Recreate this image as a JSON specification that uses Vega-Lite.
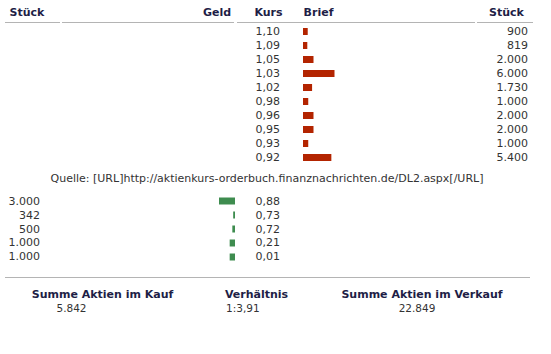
{
  "$schema": "https://vega.github.io/schema/vega-lite/v6.json",
  "width": 551,
  "height": 354,
  "padding": 0,
  "autosize": {"type": "fit", "contains": "padding"},
  "background": "white",
  "config": {
    "view": {"stroke": null},
    "locale": {"number": {"decimal": ",", "thousands": ".", "grouping": [3], "currency": ["", " €"]}},
    "text": {"font": "DejaVu Sans", "fontSize": 11, "color": "#333333", "baseline": "middle"}
  },
  "data": {"values": [{}]},
  "datasets": {
    "brief": [
      {"kurs": 1.10, "stueck": 900},
      {"kurs": 1.09, "stueck": 819},
      {"kurs": 1.05, "stueck": 2000},
      {"kurs": 1.03, "stueck": 6000},
      {"kurs": 1.02, "stueck": 1730},
      {"kurs": 0.98, "stueck": 1000},
      {"kurs": 0.96, "stueck": 2000},
      {"kurs": 0.95, "stueck": 2000},
      {"kurs": 0.93, "stueck": 1000},
      {"kurs": 0.92, "stueck": 5400}
    ],
    "geld": [
      {"kurs": 0.88, "stueck": 3000},
      {"kurs": 0.73, "stueck": 342},
      {"kurs": 0.72, "stueck": 500},
      {"kurs": 0.21, "stueck": 1000},
      {"kurs": 0.01, "stueck": 1000}
    ]
  },
  "resolve": {"scale": {"x": "independent", "y": "independent"}},
  "layer": [
    {
      "mark": {"type": "text", "text": "Stück", "fontWeight": "bold", "color": "#1e1e46", "align": "center"},
      "encoding": {
        "x": {"datum": "Stück Geld", "type": "nominal", "scale": {"type": "point", "domain": ["Stück Geld"], "range": [27, 27]}, "axis": null},
        "y": {"datum": "Kopf", "type": "nominal", "scale": {"type": "point", "domain": ["Kopf"], "range": [12.5, 12.5]}, "axis": null}
      }
    },
    {
      "mark": {"type": "text", "text": "Geld", "fontWeight": "bold", "color": "#1e1e46", "align": "center"},
      "encoding": {
        "x": {"datum": "Geld", "type": "nominal", "scale": {"type": "point", "domain": ["Geld"], "range": [217, 217]}, "axis": null},
        "y": {"datum": "Kopf", "type": "nominal", "scale": {"type": "point", "domain": ["Kopf"], "range": [12.5, 12.5]}, "axis": null}
      }
    },
    {
      "mark": {"type": "text", "text": "Kurs", "fontWeight": "bold", "color": "#1e1e46", "align": "center"},
      "encoding": {
        "x": {"datum": "Kurs", "type": "nominal", "scale": {"type": "point", "domain": ["Kurs"], "range": [268.5, 268.5]}, "axis": null},
        "y": {"datum": "Kopf", "type": "nominal", "scale": {"type": "point", "domain": ["Kopf"], "range": [12.5, 12.5]}, "axis": null}
      }
    },
    {
      "mark": {"type": "text", "text": "Brief", "fontWeight": "bold", "color": "#1e1e46", "align": "center"},
      "encoding": {
        "x": {"datum": "Brief", "type": "nominal", "scale": {"type": "point", "domain": ["Brief"], "range": [318.5, 318.5]}, "axis": null},
        "y": {"datum": "Kopf", "type": "nominal", "scale": {"type": "point", "domain": ["Kopf"], "range": [12.5, 12.5]}, "axis": null}
      }
    },
    {
      "mark": {"type": "text", "text": "Stück", "fontWeight": "bold", "color": "#1e1e46", "align": "center"},
      "encoding": {
        "x": {"datum": "Stück Brief", "type": "nominal", "scale": {"type": "point", "domain": ["Stück Brief"], "range": [506.5, 506.5]}, "axis": null},
        "y": {"datum": "Kopf", "type": "nominal", "scale": {"type": "point", "domain": ["Kopf"], "range": [12.5, 12.5]}, "axis": null}
      }
    },
    {
      "mark": {"type": "rule", "color": "#b4b4b4", "strokeWidth": 1},
      "encoding": {
        "x": {"datum": 0, "type": "quantitative", "scale": {"domain": [0, 1], "range": [5, 60]}, "axis": null},
        "x2": {"datum": 1},
        "y": {"datum": 0, "type": "quantitative", "scale": {"domain": [0, 1], "range": [22.5, 22.5]}, "axis": null}
      }
    },
    {
      "mark": {"type": "rule", "color": "#b4b4b4", "strokeWidth": 1},
      "encoding": {
        "x": {"datum": 0, "type": "quantitative", "scale": {"domain": [0, 1], "range": [62, 234]}, "axis": null},
        "x2": {"datum": 1},
        "y": {"datum": 0, "type": "quantitative", "scale": {"domain": [0, 1], "range": [22.5, 22.5]}, "axis": null}
      }
    },
    {
      "mark": {"type": "rule", "color": "#b4b4b4", "strokeWidth": 1},
      "encoding": {
        "x": {"datum": 0, "type": "quantitative", "scale": {"domain": [0, 1], "range": [237, 475]}, "axis": null},
        "x2": {"datum": 1},
        "y": {"datum": 0, "type": "quantitative", "scale": {"domain": [0, 1], "range": [22.5, 22.5]}, "axis": null}
      }
    },
    {
      "mark": {"type": "rule", "color": "#b4b4b4", "strokeWidth": 1},
      "encoding": {
        "x": {"datum": 0, "type": "quantitative", "scale": {"domain": [0, 1], "range": [477, 533]}, "axis": null},
        "x2": {"datum": 1},
        "y": {"datum": 0, "type": "quantitative", "scale": {"domain": [0, 1], "range": [22.5, 22.5]}, "axis": null}
      }
    },
    {
      "data": {"name": "brief"},
      "mark": {"type": "bar", "color": "#b32400", "size": 7},
      "encoding": {
        "y": {"field": "kurs", "type": "ordinal", "sort": "descending", "scale": {"type": "point", "range": [31.5, 157.5], "padding": 0}, "axis": null},
        "x": {"field": "stueck", "type": "quantitative", "scale": {"domain": [0, 6000], "range": [303, 334.5], "nice": false}, "axis": null}
      }
    },
    {
      "data": {"name": "brief"},
      "mark": {"type": "text", "align": "right"},
      "encoding": {
        "y": {"field": "kurs", "type": "ordinal", "sort": "descending", "scale": {"type": "point", "range": [31.5, 157.5], "padding": 0}, "axis": null},
        "x": {"datum": "Kurs", "type": "nominal", "scale": {"type": "point", "domain": ["Kurs"], "range": [280, 280]}, "axis": null},
        "text": {"field": "kurs", "type": "quantitative", "format": ".2f"}
      }
    },
    {
      "data": {"name": "brief"},
      "mark": {"type": "text", "align": "right"},
      "encoding": {
        "y": {"field": "kurs", "type": "ordinal", "sort": "descending", "scale": {"type": "point", "range": [31.5, 157.5], "padding": 0}, "axis": null},
        "x": {"datum": "Stück", "type": "nominal", "scale": {"type": "point", "domain": ["Stück"], "range": [528, 528]}, "axis": null},
        "text": {"field": "stueck", "type": "quantitative", "format": ",d"}
      }
    },
    {
      "mark": {"type": "text", "text": "Quelle: [URL]http://aktienkurs-orderbuch.finanznachrichten.de/DL2.aspx[/URL]", "align": "center"},
      "encoding": {
        "x": {"datum": "Quelle", "type": "nominal", "scale": {"type": "point", "domain": ["Quelle"], "range": [267, 267]}, "axis": null},
        "y": {"datum": "Quelle", "type": "nominal", "scale": {"type": "point", "domain": ["Quelle"], "range": [179, 179]}, "axis": null}
      }
    },
    {
      "data": {"name": "geld"},
      "mark": {"type": "bar", "color": "#3e8c4f", "size": 7},
      "encoding": {
        "y": {"field": "kurs", "type": "ordinal", "sort": "descending", "scale": {"type": "point", "range": [201, 257], "padding": 0}, "axis": null},
        "x": {"field": "stueck", "type": "quantitative", "scale": {"domain": [0, 6000], "range": [235, 203], "nice": false}, "axis": null}
      }
    },
    {
      "data": {"name": "geld"},
      "mark": {"type": "text", "align": "right"},
      "encoding": {
        "y": {"field": "kurs", "type": "ordinal", "sort": "descending", "scale": {"type": "point", "range": [202, 257], "padding": 0}, "axis": null},
        "x": {"datum": "Stück", "type": "nominal", "scale": {"type": "point", "domain": ["Stück"], "range": [40, 40]}, "axis": null},
        "text": {"field": "stueck", "type": "quantitative", "format": ",d"}
      }
    },
    {
      "data": {"name": "geld"},
      "mark": {"type": "text", "align": "right"},
      "encoding": {
        "y": {"field": "kurs", "type": "ordinal", "sort": "descending", "scale": {"type": "point", "range": [202, 257], "padding": 0}, "axis": null},
        "x": {"datum": "Kurs", "type": "nominal", "scale": {"type": "point", "domain": ["Kurs"], "range": [280, 280]}, "axis": null},
        "text": {"field": "kurs", "type": "quantitative", "format": ".2f"}
      }
    },
    {
      "mark": {"type": "rule", "color": "#b4b4b4", "strokeWidth": 1},
      "encoding": {
        "x": {"datum": 0, "type": "quantitative", "scale": {"domain": [0, 1], "range": [5, 530]}, "axis": null},
        "x2": {"datum": 1},
        "y": {"datum": 0, "type": "quantitative", "scale": {"domain": [0, 1], "range": [277.5, 277.5]}, "axis": null}
      }
    },
    {
      "mark": {"type": "text", "text": "Summe Aktien im Kauf", "fontWeight": "bold", "color": "#1e1e46", "align": "center"},
      "encoding": {
        "x": {"datum": "Kauf", "type": "nominal", "scale": {"type": "point", "domain": ["Kauf"], "range": [102.5, 102.5]}, "axis": null},
        "y": {"datum": "Summe", "type": "nominal", "scale": {"type": "point", "domain": ["Summe"], "range": [294.5, 294.5]}, "axis": null}
      }
    },
    {
      "mark": {"type": "text", "text": "Verhältnis", "fontWeight": "bold", "color": "#1e1e46", "align": "center"},
      "encoding": {
        "x": {"datum": "Verhältnis", "type": "nominal", "scale": {"type": "point", "domain": ["Verhältnis"], "range": [256.5, 256.5]}, "axis": null},
        "y": {"datum": "Summe", "type": "nominal", "scale": {"type": "point", "domain": ["Summe"], "range": [294.5, 294.5]}, "axis": null}
      }
    },
    {
      "mark": {"type": "text", "text": "Summe Aktien im Verkauf", "fontWeight": "bold", "color": "#1e1e46", "align": "center"},
      "encoding": {
        "x": {"datum": "Verkauf", "type": "nominal", "scale": {"type": "point", "domain": ["Verkauf"], "range": [422, 422]}, "axis": null},
        "y": {"datum": "Summe", "type": "nominal", "scale": {"type": "point", "domain": ["Summe"], "range": [294.5, 294.5]}, "axis": null}
      }
    },
    {
      "data": {"name": "geld"},
      "transform": [{"aggregate": [{"op": "sum", "field": "stueck", "as": "summe"}]}],
      "mark": {"type": "text", "align": "center", "fontSize": 10.5},
      "encoding": {
        "x": {"datum": "Kauf", "type": "nominal", "scale": {"type": "point", "domain": ["Kauf"], "range": [71.5, 71.5]}, "axis": null},
        "y": {"datum": "Wert", "type": "nominal", "scale": {"type": "point", "domain": ["Wert"], "range": [309, 309]}, "axis": null},
        "text": {"field": "summe", "type": "quantitative", "format": ",d"}
      }
    },
    {
      "mark": {"type": "text", "text": "1:3,91", "align": "left", "fontSize": 10.5},
      "encoding": {
        "x": {"datum": "Verhältnis", "type": "nominal", "scale": {"type": "point", "domain": ["Verhältnis"], "range": [226, 226]}, "axis": null},
        "y": {"datum": "Wert", "type": "nominal", "scale": {"type": "point", "domain": ["Wert"], "range": [309, 309]}, "axis": null}
      }
    },
    {
      "data": {"name": "brief"},
      "transform": [{"aggregate": [{"op": "sum", "field": "stueck", "as": "summe"}]}],
      "mark": {"type": "text", "align": "center", "fontSize": 10.5},
      "encoding": {
        "x": {"datum": "Verkauf", "type": "nominal", "scale": {"type": "point", "domain": ["Verkauf"], "range": [417, 417]}, "axis": null},
        "y": {"datum": "Wert", "type": "nominal", "scale": {"type": "point", "domain": ["Wert"], "range": [309, 309]}, "axis": null},
        "text": {"field": "summe", "type": "quantitative", "format": ",d"}
      }
    }
  ]
}
